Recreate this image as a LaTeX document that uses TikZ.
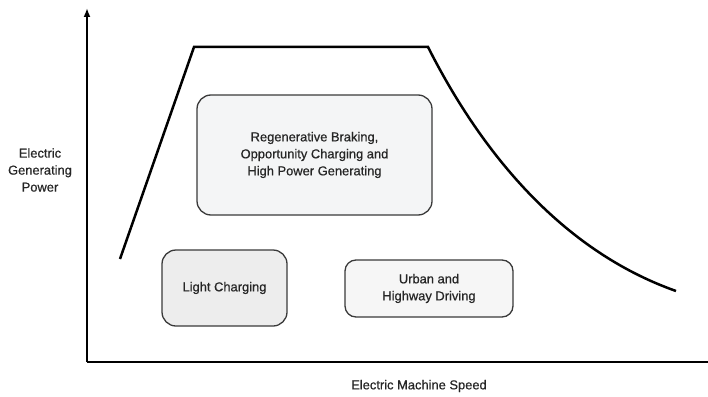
\documentclass[tikz,border=0pt]{standalone}
\usepackage{fontspec}
\setmainfont{Liberation Sans}
\newfontfamily\labelfont{Liberation Sans}[FakeBold=0.6]
\usepackage{xcolor}
\usetikzlibrary{arrows.meta}
\definecolor{boxline}{HTML}{3A3A3A}
\definecolor{boxfillA}{HTML}{F4F5F6}
\definecolor{boxfillB}{HTML}{EDEDED}
\definecolor{boxfillC}{HTML}{F6F6F6}
\begin{document}
\begin{tikzpicture}[x=1pt,y=-1pt]
				\tikzstyle{every node}+=[inner sep=0pt, font=\labelfont\fontsize{12.9}{17}\selectfont, text=black!85, align=center]
				\tikzstyle{regionbox}=[draw=boxline, line width=1.3pt, rounded corners=14pt]
				\useasboundingbox (0,0) rectangle (708,396);
				% axes
				\coordinate (origin) at (87,362);
				\coordinate (ytop) at (87,8);
				\coordinate (xend) at (708,362);
				\draw [black, line width=2pt, -{Latex[length=9pt,width=7pt]}] (origin) -- (ytop);
				\draw [black, line width=2pt] (origin) -- (xend);
				\draw (40,170) node (ylabel) {Electric\\Generating\\Power};
				\draw (419,386) node (xlabel) {Electric Machine Speed};
				% characteristic curve
				\coordinate (c0) at (120,259);
				\coordinate (c1) at (194,47);
				\coordinate (c2) at (428,47);
				\coordinate (c3) at (676,291);
				\draw [black, line width=2.5pt] (c0) -- (c1) -- (c2) .. controls (480,150) and (560,250) .. (c3);
				% operating regions
				\node [regionbox, fill=boxfillA, minimum width=235pt, minimum height=120pt] (regen) at (314.5,155) {Regenerative Braking,\\Opportunity Charging and\\High Power Generating};
				\node [regionbox, fill=boxfillB, minimum width=125pt, minimum height=76pt] (light) at (224.5,288) {Light Charging};
				\node [regionbox, fill=boxfillC, minimum width=168pt, minimum height=57pt, rounded corners=11pt] (urban) at (429,288.5) {Urban and\\Highway Driving};
\end{tikzpicture}
\end{document}
